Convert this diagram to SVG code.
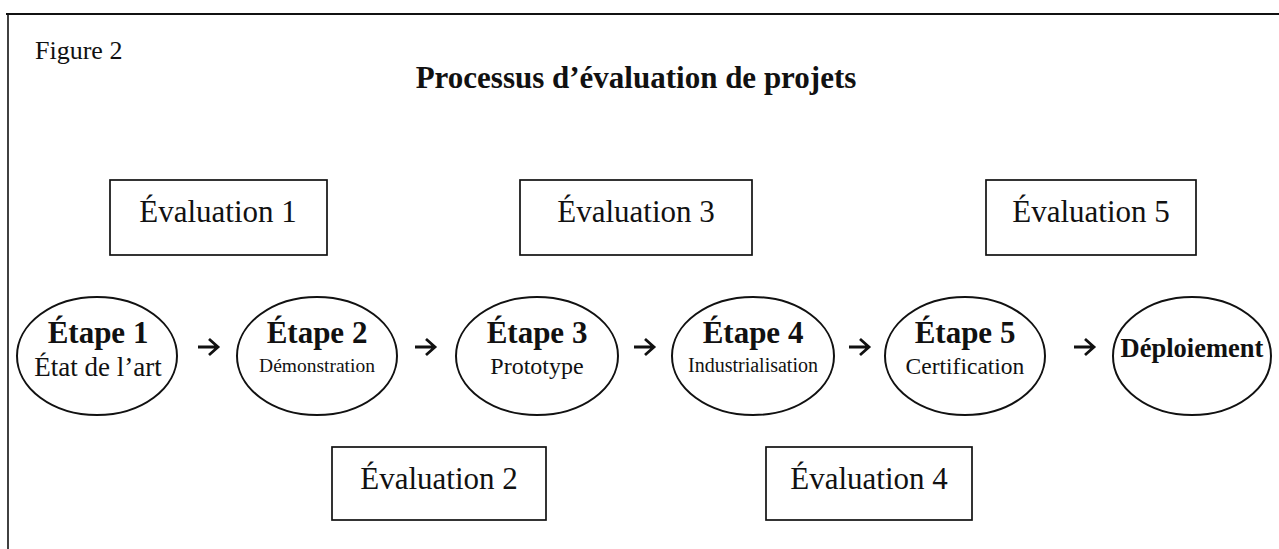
<svg xmlns="http://www.w3.org/2000/svg" width="1279" height="549" viewBox="0 0 1279 549">
  <style>
    .frame { stroke: #111; fill: none; }
    .box { fill: #fff; stroke: #111; stroke-width: 1.7; }
    .stage { fill: #fff; stroke: #111; stroke-width: 2; }
    .arrow { fill: none; stroke: #111; stroke-width: 2.8; stroke-linecap: butt; stroke-linejoin: miter; }
    text { font-family: "Liberation Serif", "Times New Roman", serif; fill: #111; text-anchor: middle; }
    .eval { font-size: 31px; }
    .head { font-size: 31px; font-weight: bold; }
  </style>
  <defs>
    <!-- short arrow used between consecutive stages -->
    <path id="step-arrow" class="arrow" d="M -10 0 H 9 M 1 -8 L 10 0 L 1 8"/>
  </defs>

  <rect width="1279" height="549" fill="#fff"/>

  <!-- page frame: top rule and left rule -->
  <g id="frame">
    <line class="frame" x1="6" y1="14" x2="1279" y2="14" stroke-width="2"/>
    <line class="frame" x1="8" y1="13" x2="8" y2="549" stroke-width="1.6"/>
  </g>

  <text id="figure-label" x="35" y="59" style="text-anchor:start;font-size:26px">Figure 2</text>
  <text id="title" x="636" y="88" style="font-size:31px;font-weight:bold">Processus d’évaluation de projets</text>

  <!-- evaluation boxes, upper row -->
  <g id="eval1">
    <rect class="box" x="110" y="180" width="217" height="75"/>
    <text class="eval" x="218" y="222">Évaluation 1</text>
  </g>
  <g id="eval3">
    <rect class="box" x="520" y="180" width="232" height="75"/>
    <text class="eval" x="636" y="222">Évaluation 3</text>
  </g>
  <g id="eval5">
    <rect class="box" x="986" y="180" width="210" height="75"/>
    <text class="eval" x="1091" y="222">Évaluation 5</text>
  </g>

  <!-- stages -->
  <g id="stage1">
    <ellipse cx="97" cy="356" rx="80" ry="59" class="stage"/>
    <text class="head" x="98" y="343">Étape 1</text>
    <text x="98" y="376" style="font-size:27px">État de l’art</text>
  </g>
  <g id="stage2">
    <ellipse cx="317" cy="356" rx="80" ry="59" class="stage"/>
    <text class="head" x="317" y="343">Étape 2</text>
    <text x="317" y="372" style="font-size:19.5px">Démonstration</text>
  </g>
  <g id="stage3">
    <ellipse cx="537" cy="356" rx="81" ry="59" class="stage"/>
    <text class="head" x="537" y="343">Étape 3</text>
    <text x="537" y="374" style="font-size:24px">Prototype</text>
  </g>
  <g id="stage4">
    <ellipse cx="753" cy="356" rx="81" ry="59" class="stage"/>
    <text class="head" x="753" y="343">Étape 4</text>
    <text x="753" y="372" style="font-size:20px">Industrialisation</text>
  </g>
  <g id="stage5">
    <ellipse cx="965" cy="356" rx="80" ry="59" class="stage"/>
    <text class="head" x="965" y="343">Étape 5</text>
    <text x="965" y="374" style="font-size:23.5px">Certification</text>
  </g>
  <g id="deployment">
    <ellipse cx="1192" cy="356" rx="79" ry="59" class="stage"/>
    <text class="head" x="1192" y="357" style="font-size:26.5px">Déploiement</text>
  </g>

  <!-- evaluation boxes, lower row -->
  <g id="eval2">
    <rect class="box" x="332" y="447" width="214" height="73"/>
    <text class="eval" x="439" y="489">Évaluation 2</text>
  </g>
  <g id="eval4">
    <rect class="box" x="766" y="447" width="206" height="73"/>
    <text class="eval" x="869" y="489">Évaluation 4</text>
  </g>

  <!-- arrows between stages -->
  <g id="connectors">
    <use href="#step-arrow" x="208" y="347"/>
    <use href="#step-arrow" x="425" y="347"/>
    <use href="#step-arrow" x="644" y="347"/>
    <use href="#step-arrow" x="859" y="347"/>
    <use href="#step-arrow" x="1084" y="347"/>
  </g>
</svg>
